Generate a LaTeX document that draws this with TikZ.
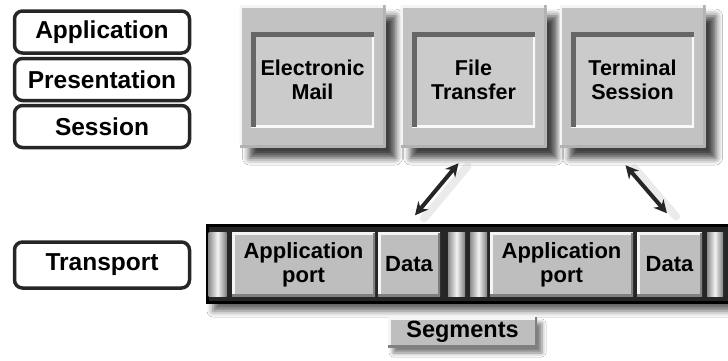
\documentclass[tikz,border=0pt]{standalone}
\usepackage{fontspec}
\setmainfont{Liberation Sans}
\usetikzlibrary{positioning,calc,arrows.meta,shadows.blur}
\definecolor{boxgray}{HTML}{C2C2C2}
\definecolor{panelgray}{HTML}{CBCBCB}
\definecolor{cellgray}{HTML}{BEBEBE}
\definecolor{bargray}{HTML}{262626}
\tikzset{
  raised/.style={path picture={
      \draw[white!92!gray,line width=5pt] (path picture bounding box.south west) -- (path picture bounding box.north west) -- (path picture bounding box.north east);
      \draw[black!#1,line width=5pt] (path picture bounding box.north east) -- (path picture bounding box.south east) -- (path picture bounding box.south west);}},
  raised/.default=50,
  sunken/.style={path picture={
      \draw[white!95!gray,line width=4pt] (path picture bounding box.north east) -- (path picture bounding box.south east) -- (path picture bounding box.south west);
      \draw[black!60,line width=9pt] (path picture bounding box.south west) -- (path picture bounding box.north west) -- (path picture bounding box.north east);}},
  layer/.style={draw=black!85, line width=3.5pt, rounded corners=8pt, fill=white,
    minimum width=175pt, minimum height=42pt, inner sep=0pt,
    font=\fontsize{24.5}{27}\selectfont\bfseries},
  appbox/.style={fill=boxgray, raised=30, minimum width=146pt, minimum height=142pt, inner sep=0pt,
    blur shadow={shadow xshift=10pt, shadow yshift=-11pt, shadow blur radius=7pt, shadow opacity=75}},
  panel/.style={fill=panelgray, sunken, minimum width=123pt, minimum height=95pt, inner sep=0pt,
    align=center, font=\fontsize{21.5}{24}\selectfont\bfseries},
  cell/.style={fill=cellgray, raised, minimum height=64pt, inner sep=0pt, align=center,
    font=\fontsize{22}{24}\selectfont\bfseries},
  tube/.style={minimum width=18pt, minimum height=64pt, inner sep=0pt,
    left color=black!45, right color=black!50, middle color=white!90!gray},
  dblarrow/.style={{Stealth[length=13pt,width=13pt]}-{Stealth[length=13pt,width=13pt]}, line width=4pt, draw=black!85},
  arrowshade/.style={line width=8pt, draw=gray!50, opacity=.3, line cap=round},
}
\begin{document}
\begin{tikzpicture}[x=1pt,y=-1pt]
\useasboundingbox[fill=white] (0,0) rectangle (728,360);

% OSI layers on the left
\node[layer] (app) at (102,32) {Application};
\node[layer] (pres) at (102,79.5) {Presentation};
\node[layer] (sess) at (102,126.5) {Session};
\node[layer, minimum height=46pt] (trans) at (102,265) {Transport};

% applications
\foreach \n/\x/\t in {mail/312.5/{Electronic\\Mail}, ftp/473.5/{File\\Transfer}, term/632.5/{Terminal\\Session}} {
  \node[appbox] (\n) at (\x,76) {};
  \node[panel] (\n p) at (\x,79.5) {\t};
}

% transport segments
\node[fill=bargray, draw=black, line width=3pt, minimum width=534pt, minimum height=77pt,
  blur shadow={shadow xshift=6pt, shadow yshift=-9pt, shadow blur radius=6pt, shadow opacity=60}] (bar) at (474,263.5) {};
\node[tube] (t1) at (217.5,264.5) {};
\node[cell, minimum width=143pt] (port1) at (303.5,264.5) {Application\\port};
\node[cell, minimum width=62pt] (data1) at (409,264.5) {Data};
\node[tube, minimum width=17pt] (t2) at (456.5,264.5) {};
\node[tube, minimum width=17pt] (t3) at (478.5,264.5) {};
\node[cell, minimum width=143pt] (port2) at (561.5,264.5) {Application\\port};
\node[cell, minimum width=65pt] (data2) at (669.5,264.5) {Data};
\node[tube, minimum width=16pt] (t4) at (715,264.5) {};

\node[cell, minimum width=149pt, minimum height=30pt, font=\fontsize{23.5}{26}\selectfont\bfseries,
  blur shadow={shadow xshift=5pt, shadow yshift=-6pt, shadow blur radius=4pt, shadow opacity=50}] (seg) at (462.5,332) {Segments};

% arrows between applications and data
\coordinate (f1) at ([xshift=-15pt,yshift=-16pt]ftp.south);
\coordinate (d1) at ([xshift=6pt,yshift=17pt]data1.north);
\coordinate (f2) at ([xshift=-7pt,yshift=-18pt]term.south);
\coordinate (d2) at ([xshift=-2.5pt,yshift=19pt]data2.north);
\draw[arrowshade] ([xshift=9pt,yshift=-3pt]f1) -- ([xshift=9pt,yshift=-3pt]d1);
\draw[arrowshade] ([xshift=9pt,yshift=-3pt]f2) -- ([xshift=9pt,yshift=-3pt]d2);
\draw[dblarrow] (f1) -- (d1);
\draw[dblarrow] (f2) -- (d2);
\end{tikzpicture}
\end{document}
